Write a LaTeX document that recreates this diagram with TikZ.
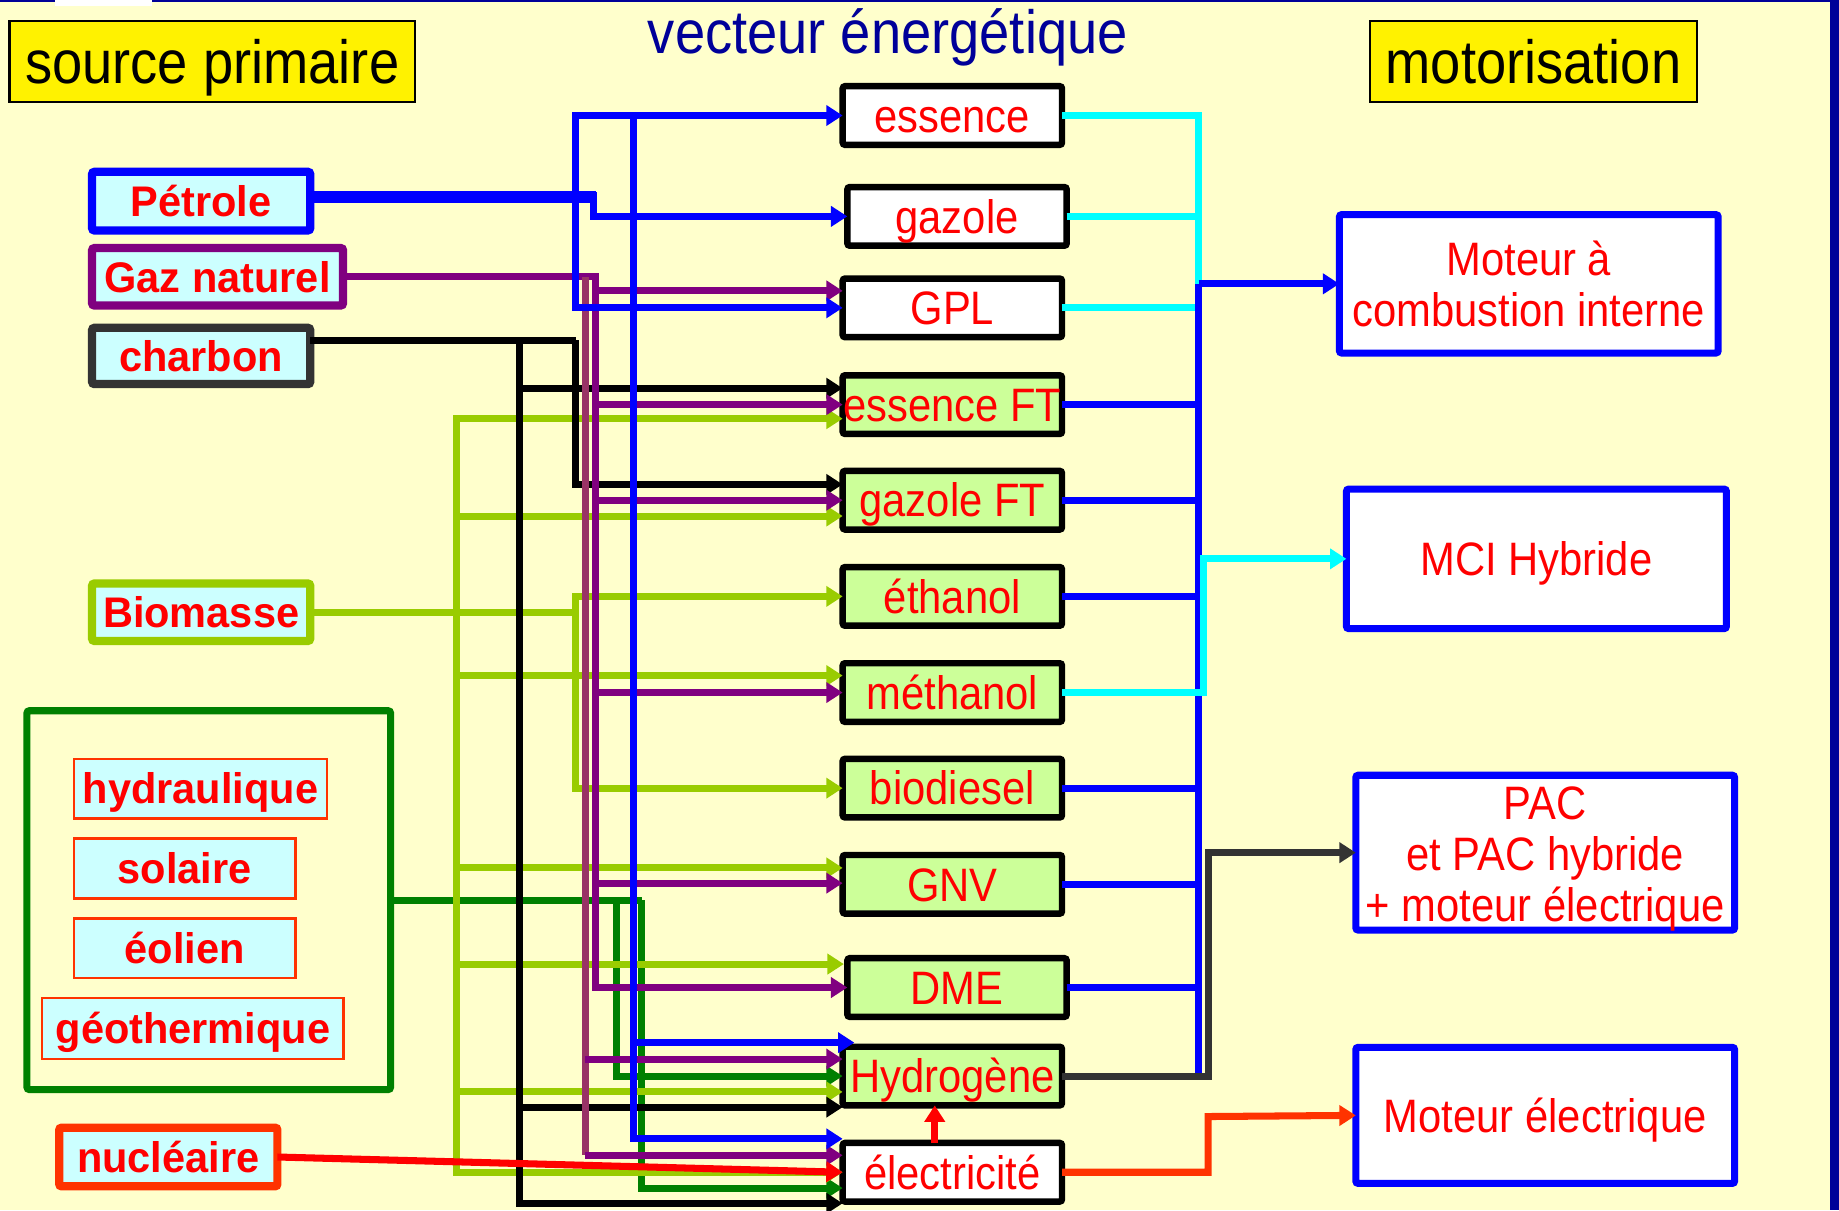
\documentclass[tikz,border=0pt]{standalone}
\usepackage{fontspec}
\setmainfont{Liberation Sans}
\newfontfamily\regf[FakeStretch=0.89]{Liberation Sans}
\newfontfamily\boldf[FakeStretch=0.97]{Liberation Sans}
\usetikzlibrary{arrows.meta,calc}
\definecolor{bg}{HTML}{FFFFCC}
\definecolor{navy}{HTML}{000099}
\definecolor{cyanfill}{HTML}{CCFFFF}
\definecolor{vgreen}{HTML}{CCFF99}
\definecolor{pblue}{HTML}{0000FF}
\definecolor{purp}{HTML}{800080}
\definecolor{lpurp}{HTML}{993366}
\definecolor{dgray}{HTML}{333333}
\definecolor{ygreen}{HTML}{99CC00}
\definecolor{dgreen}{HTML}{008000}
\definecolor{orred}{HTML}{FF3300}
\definecolor{cyanl}{HTML}{00FFFF}
\definecolor{txtred}{HTML}{FF0000}
\begin{document}
\begin{tikzpicture}[x=1pt,y=-1pt,
  every node/.style={inner sep=0pt,outer sep=0pt},
  hdr/.style={draw=black,line width=2pt,fill=yellow,font=\regf\fontsize{52}{60}\selectfont,text height=37pt,text depth=0pt,minimum height=69pt},
  src/.style={line width=7pt,fill=cyanfill,rounded corners=2pt,text=txtred,font=\boldf\bfseries\fontsize{36.5}{40}\selectfont,text height=26pt,text depth=0pt},
  ren/.style={draw=orred,line width=2pt,fill=cyanfill,text=txtred,font=\boldf\bfseries\fontsize{36.5}{40}\selectfont,text height=26pt,text depth=0pt,minimum height=51pt},
  vec/.style={draw=black,line width=5.5pt,rounded corners=2pt,text=txtred,font=\regf\fontsize{40}{44}\selectfont,minimum width=187pt,minimum height=50pt,text height=28.6pt,text depth=0pt},
  motbox/.style={draw=pblue,line width=6pt,fill=white,rounded corners=2pt,text=txtred,align=center,font=\regf\fontsize{40}{44}\selectfont},
  onel/.style={text height=28.6pt,text depth=0pt},
  ln/.style={line width=6pt},
  arr/.style={-{Triangle[length=14pt,width=17pt]}},
  arrtwo/.style={{Triangle[length=14pt,width=17pt]}-{Triangle[length=14pt,width=17pt]}}
]
% background
\fill[bg] (0,0) rectangle (1568,1032);
\useasboundingbox (0,0) rectangle (1568,1032);
\fill[navy] (0,0) rectangle (1568,2);
\fill[white] (47,0) rectangle (130,5);
\fill[navy] (1560,0) rectangle (1568,1032);

% headers
\node[hdr,minimum width=346pt] (sp) at (181,52.5) {source primaire};
\node[hdr,minimum width=279pt] (motr) at (1307.5,52.5) {motorisation};
\node[text=navy,font=\regf\fontsize{52}{60}\selectfont,text height=37pt,text depth=0pt] (vect) at (757,27) {vecteur énergétique};

% primary sources
\node[src,draw=pblue,minimum width=186pt,minimum height=50pt] (petrole) at (171.5,171.5) {Pétrole};
\node[src,draw=purp,minimum width=214pt,minimum height=49pt] (gaz) at (185.5,236) {Gaz naturel};
\node[src,draw=dgray,minimum width=186pt,minimum height=48pt] (charbon) at (171.5,303.5) {charbon};
\node[src,draw=ygreen,minimum width=186pt,minimum height=49pt] (biomasse) at (171.5,522) {Biomasse};
\node[draw=dgreen,line width=6pt,rounded corners=2pt,minimum width=310pt,minimum height=323pt] (container) at (178,767.5) {};
\node[ren,minimum width=216pt] (hydro) at (171,672.5) {hydraulique};
\node[ren,minimum width=189pt] (solaire) at (157.5,740.5) {solaire};
\node[ren,minimum width=189pt] (eolien) at (157.5,808.5) {éolien};
\node[ren,minimum width=257pt,minimum height=52pt] (geo) at (164.5,877) {géothermique};
\node[src,draw=orred,minimum width=186pt,minimum height=50pt] (nuc) at (143.5,986.5) {nucléaire};

% energy vectors
\node[vec,fill=white] (essence) at (812,98.5) {essence};
\node[vec,fill=white] (gazole) at (816,184.5) {gazole};
\node[vec,fill=white] (GPL) at (812,262.5) {GPL};
\node[vec,fill=vgreen] (essenceFT) at (812,345) {essence FT};
\node[vec,fill=vgreen] (gazoleFT) at (812,426.5) {gazole FT};
\node[vec,fill=vgreen] (ethanol) at (812,508.5) {éthanol};
\node[vec,fill=vgreen] (methanol) at (812,590.5) {méthanol};
\node[vec,fill=vgreen] (biodiesel) at (812,672) {biodiesel};
\node[vec,fill=vgreen] (GNV) at (812,754) {GNV};
\node[vec,fill=vgreen] (DME) at (816,842) {DME};
\node[vec,fill=vgreen] (H2) at (812,917.5) {Hydrogène};
\node[vec,fill=white] (elec) at (812,999.5) {électricité};

% motorisations
\node[motbox,minimum width=323pt,minimum height=118pt] (mci) at (1303.5,242) {Moteur à\\combustion interne};
\node[motbox,onel,minimum width=324pt,minimum height=119pt] (mcih) at (1310,476.5) {MCI Hybride};
\node[motbox,minimum width=323pt,minimum height=132pt] (pac) at (1317.5,727) {};
\node[text=txtred,align=center,font=\regf\fontsize{40}{43.5}\selectfont] (pactxt) at (1317.5,732) {PAC\\et PAC hybride\\+ moteur électrique};
\node[motbox,onel,minimum width=323pt,minimum height=116pt] (mel) at (1317.5,951) {Moteur électrique};

% junction coordinates
\coordinate (gbus) at (547,767.5);
\coordinate (gbusa) at (526,767.5);
\coordinate (yb) at (389,522);
\coordinate (ybb) at (491,522);
\coordinate (kb) at (491,290);
\coordinate (kbb) at (443,290);
\coordinate (pb) at (508,236);
\coordinate (lp) at (499,236);
\coordinate (lpH) at (499,903);
\coordinate (lpE) at (499,985);
\coordinate (pj) at (506,168);
\coordinate (bxa) at (491,98.5);
\coordinate (bxb) at (540,98.5);
\coordinate (rb) at (1022,242);
\coordinate (rbe) at (1022,917);
\coordinate (cb) at (1026,476.5);
\coordinate (gyb) at (1030,727);
\coordinate (ob) at (1030,952);

% dark green (renewables)
\draw[ln,dgreen] (container.east) -- (gbus);
\draw[ln,dgreen,arr] (gbusa) |- (H2.west);
\draw[ln,dgreen,arr] (gbus) |- ([yshift=-13.5pt]elec.west);

% yellow-green (biomasse)
\draw[ln,ygreen] (biomasse.east) -- (ybb);
\draw[ln,ygreen,arr] (yb) |- ([yshift=-12pt]essenceFT.west);
\draw[ln,ygreen,arr] (yb) |- ([yshift=-13.5pt]gazoleFT.west);
\draw[ln,ygreen,arr] (yb) |- ([yshift=14.5pt]methanol.west);
\draw[ln,ygreen,arr] (yb) |- ([yshift=14pt]GNV.west);
\draw[ln,ygreen,arr] (yb) |- ([yshift=20pt,xshift=-3pt]DME.west);
\draw[ln,ygreen,arr] (yb) |- ([yshift=-13.5pt]H2.west);
\draw[ln,ygreen,arr] (yb) |- (elec.west);
\draw[ln,ygreen,arr] (ybb) |- (ethanol.west);
\draw[ln,ygreen,arr] (ybb) |- (biodiesel.west);

% black (charbon)
\draw[ln,black] ([yshift=13.5pt]charbon.east) -- (kb);
\draw[ln,black,arr] (kb) |- ([yshift=13.5pt]gazoleFT.west);
\draw[ln,black,arr] (kbb) |- ([yshift=14pt]essenceFT.west);
\draw[ln,black,arr] (kbb) |- ([yshift=-26.5pt]H2.west);
\draw[ln,black,arr] (kbb) |- ([yshift=-26.5pt]elec.west);

% purple (gaz naturel)
\draw[ln,purp] (gaz.east) -- ([xshift=2.5pt]pb);
\draw[ln,lpurp] (lp) -- (lpE);
\draw[ln,purp,arr] (pb) |- ([yshift=14.5pt]GPL.west);
\draw[ln,purp,arr] (pb) |- (essenceFT.west);
\draw[ln,purp,arr] (pb) |- (gazoleFT.west);
\draw[ln,purp,arr] (pb) |- (methanol.west);
\draw[ln,purp,arr] (pb) |- ([yshift=1pt]GNV.west);
\draw[ln,purp,arr] (pb) |- (DME.west);
\draw[ln,purp,arr] (lpH) -- ([yshift=14.5pt]H2.west);
\draw[ln,purp,arr] (lpE) -- ([yshift=14.5pt]elec.west);

% blue (petrole)
\draw[line width=10pt,pblue] ([yshift=3.5pt]petrole.east) -- ([xshift=2.5pt]pj);
\draw[ln,pblue,arr] ([yshift=4pt]pj) |- (gazole.west);
\draw[ln,pblue,arrtwo] (essence.west) -| (bxa |- GPL.west) -- (GPL.west);
\draw[ln,pblue,arr] (bxb) |- ([yshift=28.5pt,xshift=10pt]H2.west);
\draw[ln,pblue,arr] (bxb) |- ([yshift=28.5pt]elec.west);

% red (nucleaire) and electricity -> hydrogen
\draw[ln,txtred,arr] (nuc.east) -- (elec.west);
\draw[ln,txtred,arr] ([xshift=-15pt]elec.north) -- ([xshift=-15pt]H2.south);

% right side
\draw[ln,cyanl] (essence.east) -| (rb);
\draw[ln,cyanl] (gazole.east) -- (gazole.east -| rb);
\draw[ln,cyanl] (GPL.east) -- (GPL.east -| rb);
\draw[ln,pblue] (rb) -- (rbe);
\draw[ln,pblue,arr] (rb) -- (mci.west);
\foreach \n in {essenceFT,gazoleFT,ethanol,biodiesel,GNV,DME}
  \draw[ln,pblue] (\n.east) -- (\n.east -| rb);
\draw[ln,cyanl,arr] (methanol.east) -| (cb) -- (mcih.west);
\draw[ln,dgray,arr] (H2.east) -| (gyb) -- (pac.west);
\draw[ln,orred,arr] (elec.east) -| (ob) -- (mel.west);
\end{tikzpicture}
\end{document}
